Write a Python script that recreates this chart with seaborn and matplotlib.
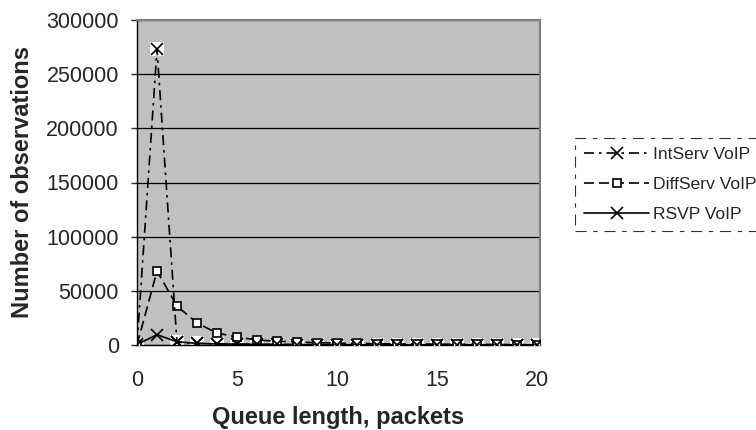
import matplotlib
matplotlib.use("Agg")
import matplotlib.pyplot as plt
import seaborn as sns
import pandas as pd

queue_length = list(range(21))
intserv = [0, 273000, 2500, 1500, 1000, 800, 600, 500, 400, 400, 300,
           300, 200, 200, 200, 200, 100, 100, 100, 100, 100]
diffserv = [0, 68300, 36000, 20300, 11000, 7400, 4600, 3500, 2800, 2200, 1800,
            1500, 1200, 1000, 900, 800, 700, 600, 500, 400, 400]
rsvp = [500, 9500, 3000, 1500, 1000, 800, 600, 500, 400, 300, 300,
        200, 200, 200, 100, 100, 100, 100, 100, 100, 100]
series_names = ["IntServ VoIP", "DiffServ VoIP", "RSVP VoIP"]
y_ticks = [0, 50000, 100000, 150000, 200000, 250000, 300000]
x_ticks = [0, 5, 10, 15, 20]

sns.set_style("white")
plt.rcParams["font.family"] = ["Liberation Sans", "DejaVu Sans"]

fig = plt.figure(figsize=(7.56, 4.30), dpi=100)
ax = fig.add_axes([137 / 756, 1 - 345 / 430, 403 / 756, 325 / 430])
ax.set_facecolor("#c0c0c0")

df = pd.DataFrame({"queue": queue_length, series_names[0]: intserv,
                   series_names[1]: diffserv, series_names[2]: rsvp})

styles = {
    "IntServ VoIP": dict(linestyle=(0, (6, 3, 1.5, 3)), marker="x", ms=8,
                         mew=1.2, mfc="white"),
    "DiffServ VoIP": dict(linestyle=(0, (6, 3)), marker="s", ms=6,
                          mew=1.2, mfc="white"),
    "RSVP VoIP": dict(linestyle="-", marker="x", ms=8, mew=1.2, mfc="#c0c0c0"),
}

# white boxes behind the IntServ crosses, like the spreadsheet markers
ax.scatter(df["queue"], df["IntServ VoIP"], marker="s", s=110, color="white",
           zorder=2, linewidths=0)

for name in ["RSVP VoIP", "DiffServ VoIP", "IntServ VoIP"]:
    st = styles[name]
    sns.lineplot(data=df, x="queue", y=name, ax=ax, color="black", lw=1.2,
                 linestyle=st["linestyle"], marker=st["marker"],
                 markersize=st["ms"], markeredgewidth=st["mew"],
                 markerfacecolor=st["mfc"], markeredgecolor="black",
                 label=name, zorder=3)

ax.set_xlim(0, 20.15)
ax.set_ylim(0, 300000)
ax.set_yticks(y_ticks)
ax.set_xticks(x_ticks)
ax.yaxis.grid(True, color="black", lw=0.9)
ax.set_axisbelow(True)

for side in ["top", "right"]:
    ax.spines[side].set_color("#808080")
    ax.spines[side].set_linewidth(1.5)
for side in ["left", "bottom"]:
    ax.spines[side].set_color("black")
    ax.spines[side].set_linewidth(1.0)

ax.tick_params(axis="y", direction="out", length=4, width=1, pad=9,
               labelsize=15.5, left=True)
ax.tick_params(axis="x", length=0, pad=18, labelsize=15.5)

ax.set_xlabel("Queue length, packets", fontsize=17, fontweight="bold",
              labelpad=11)
ax.set_ylabel("Number of observations", fontsize=17, fontweight="bold",
              labelpad=9)

handles, labels = ax.get_legend_handles_labels()
order = [labels.index(n) for n in series_names]
leg = ax.legend([handles[i] for i in order], [labels[i] for i in order],
                loc="upper left", bbox_to_anchor=(575 / 756, 1 - 138 / 430),
                bbox_transform=fig.transFigure, frameon=True, fancybox=False,
                fontsize=12.6, handlelength=3.75, handletextpad=0.2,
                borderaxespad=0, borderpad=0.5, labelspacing=0.85)
frame = leg.get_frame()
frame.set_edgecolor("black")
frame.set_linewidth(0.8)
frame.set_linestyle((0, (10, 6, 4, 6)))
frame.set_facecolor("white")

fig.savefig("out.png", dpi=100)
